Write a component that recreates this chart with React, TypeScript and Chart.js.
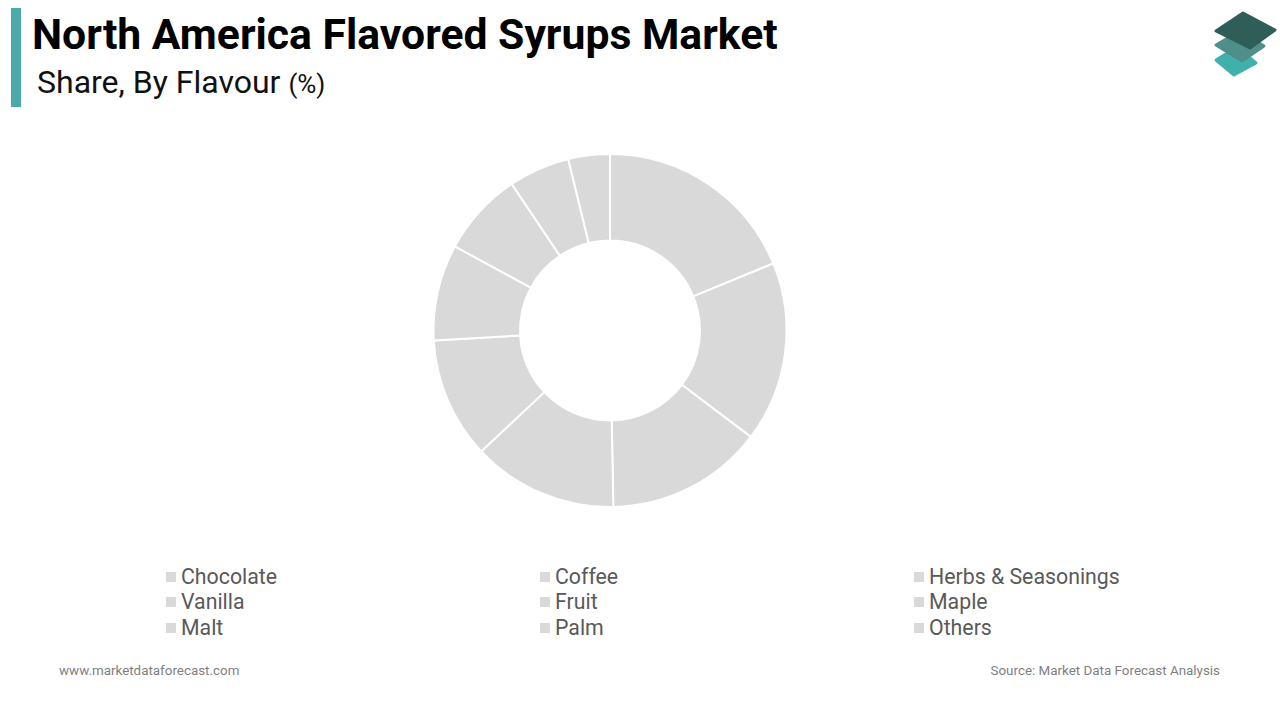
import React, { useEffect, useRef } from "react";
import { Chart, registerables } from "chart.js";

Chart.register(...registerables);

const categories = [
  "Chocolate",
  "Coffee",
  "Herbs & Seasonings",
  "Vanilla",
  "Fruit",
  "Maple",
  "Malt",
  "Palm",
  "Others",
];
const shares = [18.8, 16.5, 14.4, 13.3, 11.1, 8.8, 7.7, 5.6, 3.8];
const sliceColor = "#d9d9d9";

const FONT = "Roboto, 'Noto Sans', sans-serif";

function Logo() {
  const common = { strokeLinejoin: "round" as const, strokeWidth: 3 };
  return (
    <svg width="80" height="80" viewBox="0 0 80 80" style={{ position: "absolute", left: 1200, top: 0 }}>
      <polygon points="16,60 37,47 56,63 34,75" fill="#3fb0ac" stroke="#3fb0ac" {...common} />
      <polygon points="16,45 40,31 64,46 42,61" fill="#4f8f8a" stroke="#4f8f8a" {...common} />
      <polygon points="16,31 43,13 75,30 50,48" fill="#2f5e59" stroke="#2f5e59" {...common} />
    </svg>
  );
}

export default function App() {
  const ref = useRef<HTMLCanvasElement | null>(null);

  useEffect(() => {
    if (!ref.current) return;
    const chart = new Chart(ref.current, {
      type: "doughnut",
      data: {
        labels: categories,
        datasets: [
          {
            data: shares,
            backgroundColor: categories.map(() => sliceColor),
            borderColor: "#ffffff",
            borderWidth: 2,
            hoverOffset: 0,
          },
        ],
      },
      options: {
        responsive: false,
        maintainAspectRatio: false,
        animation: false,
        cutout: "51%",
        layout: { padding: 0 },
        plugins: {
          legend: { display: false },
          tooltip: { enabled: false },
          title: { display: false },
        },
      },
    });
    return () => chart.destroy();
  }, []);

  return (
    <div
      style={{
        position: "absolute",
        left: 0,
        top: 0,
        width: 1280,
        height: 720,
        background: "#ffffff",
        fontFamily: FONT,
        overflow: "hidden",
      }}
    >
      <div style={{ position: "absolute", left: 11, top: 8, width: 10, height: 99, background: "#4aa9a9" }} />
      <div
        style={{
          position: "absolute",
          left: 32,
          top: 13,
          fontSize: 42.7,
          lineHeight: "42px",
          fontWeight: 700,
          color: "#000",
          whiteSpace: "nowrap",
        }}
      >
        North America Flavored Syrups Market
      </div>
      <div
        style={{
          position: "absolute",
          left: 37,
          top: 67,
          fontSize: 32,
          lineHeight: "31px",
          color: "#111",
          whiteSpace: "nowrap",
        }}
      >
        Share, By Flavour <span style={{ fontSize: 26 }}>(%)</span>
      </div>
      <Logo />
      <canvas
        ref={ref}
        width={1220}
        height={355}
        style={{ position: "absolute", left: 0, top: 153, width: 1220, height: 355 }}
      />
      {categories.map((c, i) => {
        const col = i % 3;
        const row = Math.floor(i / 3);
        return (
          <div
            key={c}
            style={{
              position: "absolute",
              left: 166 + col * 374,
              top: 566.5 + row * 25.5,
              height: 20,
              display: "flex",
              alignItems: "center",
              whiteSpace: "nowrap",
            }}
          >
            <div style={{ width: 10, height: 10, background: sliceColor, marginRight: 5 }} />
            <span style={{ fontSize: 21.3, lineHeight: "20px", color: "#595959" }}>{c}</span>
          </div>
        );
      })}
      <div
        style={{ position: "absolute", left: 59, top: 664, fontSize: 13.4, lineHeight: "13px", color: "#7f7f7f" }}
      >
        www.marketdataforecast.com
      </div>
      <div
        style={{
          position: "absolute",
          right: 60,
          top: 664,
          fontSize: 13.4,
          lineHeight: "13px",
          color: "#7f7f7f",
          textAlign: "right",
          whiteSpace: "nowrap",
        }}
      >
        Source: Market Data Forecast Analysis
      </div>
    </div>
  );
}
